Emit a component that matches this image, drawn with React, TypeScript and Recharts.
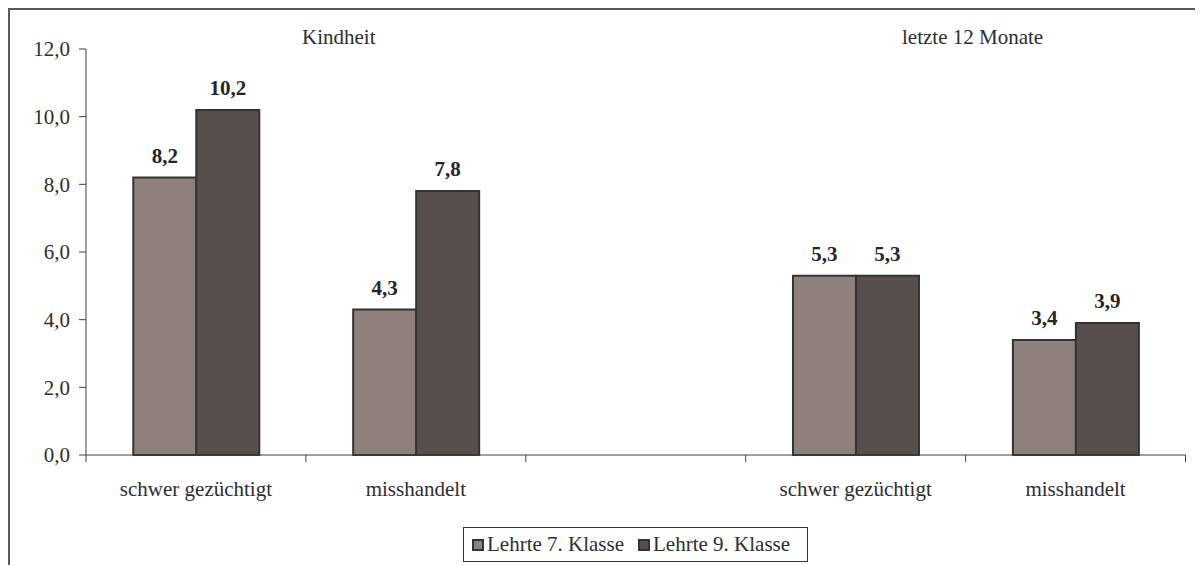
import React from 'react';
import { BarChart, Bar, XAxis, YAxis, Legend, LabelList } from 'recharts';

const categories = ['schwer gezüchtigt', 'misshandelt', '', 'schwer gezüchtigt', 'misshandelt'];
const klasse7 = [8.2, 4.3, null, 5.3, 3.4];
const klasse9 = [10.2, 7.8, null, 5.3, 3.9];
const yTicks = [0, 2, 4, 6, 8, 10, 12];
const seriesNames = ['Lehrte 7. Klasse', 'Lehrte 9. Klasse'];
const groupTitles = ['Kindheit', 'letzte 12 Monate'];

const COLORS = ['#8E817C', '#584F4C'];
const STROKE = '#333333';
const TEXT = '#2e2e2e';
const FONT = '"Liberation Serif", "Times New Roman", serif';

const W = 1195;
const H = 557;
const MARGIN = { top: 41, right: 17.5, left: 8, bottom: 3 };
const YW = 70;
const PLOT_W = W - MARGIN.left - MARGIN.right - YW;

const data = categories.map((c, i) => ({ cat: c, k7: klasse7[i], k9: klasse9[i] }));

const fmt = (v: any) => (v === null || v === undefined || v === '' ? '' : Number(v).toFixed(1).replace('.', ','));

function CatTick(props: any) {
  const { x, y } = props;
  const index = props.index ?? props.payload?.index ?? 0;
  const band = PLOT_W / categories.length;
  const left = x - band / 2;
  const right = x + band / 2;
  return (
    <g>
      <line x1={left} x2={left} y1={y} y2={y + 7} stroke="#404040" strokeWidth={1} />
      {index === categories.length - 1 && (
        <line x1={right} x2={right} y1={y} y2={y + 7} stroke="#404040" strokeWidth={1} />
      )}
      <text x={x} y={y + 41} textAnchor="middle" fontFamily={FONT} fontSize={21} fill={TEXT}>
        {categories[index]}
      </text>
    </g>
  );
}

function LegendContent() {
  return (
    <div
      style={{
        boxSizing: 'border-box',
        width: 345,
        height: 35,
        border: '1px solid #333',
        display: 'flex',
        alignItems: 'center',
        paddingLeft: 8,
        fontFamily: FONT,
        fontSize: 21,
        color: TEXT,
        lineHeight: 1,
        background: '#fff',
      }}
    >
      {seriesNames.map((n, i) => (
        <div key={n} style={{ display: 'flex', alignItems: 'center', marginRight: i === 0 ? 14 : 0 }}>
          <span
            style={{
              display: 'inline-block',
              boxSizing: 'border-box',
              width: 12,
              height: 12,
              background: COLORS[i],
              border: '2px solid #333',
              marginRight: 3,
            }}
          />
          <span>{n}</span>
        </div>
      ))}
    </div>
  );
}

export default function App() {
  return (
    <div style={{ position: 'relative', width: W, height: H, background: '#fff' }}>
      <style>{`body{overflow:hidden}`}</style>
      <BarChart
        width={W}
        height={H}
        data={data}
        margin={MARGIN}
        barCategoryGap="21.5%"
        barGap={0}
      >
        <XAxis
          dataKey="cat"
          interval={0}
          tickLine={false}
          tickSize={0}
          tickMargin={0}
          height={72}
          axisLine={{ stroke: '#404040', strokeWidth: 1 }}
          tick={<CatTick />}
        />
        <YAxis
          width={YW}
          domain={[0, 12]}
          ticks={yTicks}
          interval={0}
          tickFormatter={fmt}
          tickSize={7}
          tickMargin={9}
          axisLine={{ stroke: '#404040', strokeWidth: 1 }}
          tickLine={{ stroke: '#404040', strokeWidth: 1 }}
          tick={{ fontFamily: FONT, fontSize: 21, fill: TEXT }}
        />
        <Legend
          verticalAlign="bottom"
          align="center"
          content={<LegendContent />}
          wrapperStyle={{ left: 455, bottom: 3, width: 345, height: 35 }}
        />
        <Bar dataKey="k7" name={seriesNames[0]} fill={COLORS[0]} stroke={STROKE} strokeWidth={2} isAnimationActive={false}>
          <LabelList dataKey="k7" position="top" offset={15} formatter={fmt} fontFamily={FONT} fontSize={21} fontWeight="bold" fill="#262626" />
        </Bar>
        <Bar dataKey="k9" name={seriesNames[1]} fill={COLORS[1]} stroke={STROKE} strokeWidth={2} isAnimationActive={false}>
          <LabelList dataKey="k9" position="top" offset={15} formatter={fmt} fontFamily={FONT} fontSize={21} fontWeight="bold" fill="#262626" />
        </Bar>
      </BarChart>
      <div
        style={{
          position: 'absolute',
          left: 294,
          top: 19,
          fontFamily: FONT,
          fontSize: 21,
          lineHeight: '21px',
          color: TEXT,
          whiteSpace: 'nowrap',
        }}
      >
        {groupTitles[0]}
      </div>
      <div
        style={{
          position: 'absolute',
          left: 894,
          top: 19,
          fontFamily: FONT,
          fontSize: 21,
          lineHeight: '21px',
          color: TEXT,
          whiteSpace: 'nowrap',
        }}
      >
        {groupTitles[1]}
      </div>
      <div
        style={{
          position: 'absolute',
          left: 0,
          top: 0,
          width: W,
          height: H,
          boxSizing: 'border-box',
          borderTop: '2px solid #5a5a5a',
          borderLeft: '2px solid #5a5a5a',
          pointerEvents: 'none',
        }}
      />
    </div>
  );
}
